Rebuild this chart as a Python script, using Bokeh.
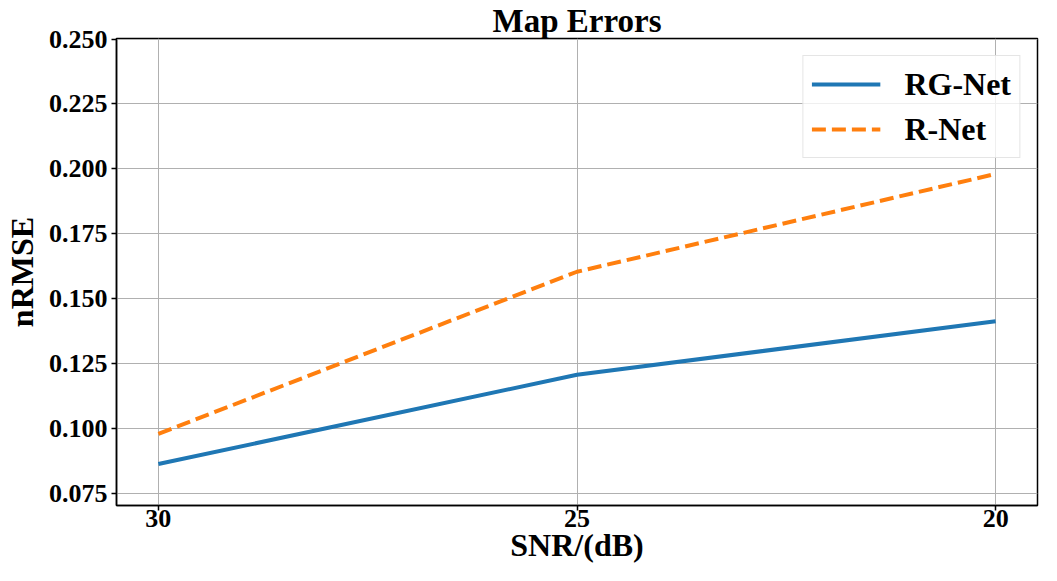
from bokeh.plotting import figure
from bokeh.models import Range1d, FixedTicker, PrintfTickFormatter, Legend, LegendItem
from bokeh.embed import file_html
from bokeh.resources import INLINE

snr = [30, 25, 20]
rg_net = [0.0862, 0.1206, 0.1412]
r_net = [0.0978, 0.1603, 0.1980]
x_ticks = [30, 25, 20]
y_ticks = [0.075, 0.100, 0.125, 0.150, 0.175, 0.200, 0.225, 0.250]

FONT = "Liberation Serif"

p = figure(width=1041, height=565, output_backend="svg", toolbar_location=None,
           x_range=Range1d(30.5, 19.5), y_range=Range1d(0.0702, 0.2502),
           min_border_left=113, min_border_right=4, min_border_top=30, min_border_bottom=59)

p.title.text = "Map Errors"
p.title.align = "center"
p.title.text_font = FONT
p.title.text_font_size = "33px"
p.title.text_font_style = "bold"
p.title.text_color = "black"
p.title.standoff = 0
p.title.offset = 0

r1 = p.line(snr, rg_net, line_color="#1f77b4", line_width=4)
r2 = p.line(snr, r_net, line_color="#ff7f0e", line_width=4, line_dash="14 6")

p.xaxis.ticker = FixedTicker(ticks=x_ticks)
p.yaxis.ticker = FixedTicker(ticks=y_ticks)
p.yaxis.formatter = PrintfTickFormatter(format="%.3f")
p.xaxis.axis_label = "SNR/(dB)"
p.yaxis.axis_label = "nRMSE"

for ax in (p.xaxis, p.yaxis):
    ax.axis_label_text_font = FONT
    ax.axis_label_text_font_size = "32px"
    ax.axis_label_text_font_style = "bold"
    ax.major_label_text_font = FONT
    ax.major_label_text_font_size = "26px"
    ax.major_label_text_font_style = "bold"
    ax.major_label_text_color = "black"
    ax.axis_label_text_color = "black"
    ax.axis_line_color = "black"
    ax.axis_line_width = 1.5
    ax.major_tick_line_color = "black"
    ax.major_tick_line_width = 1.5
    ax.major_tick_in = 0
    ax.major_tick_out = 5
    ax.minor_tick_line_color = None

p.yaxis.major_label_standoff = 4
p.yaxis.axis_label_standoff = 6
p.xaxis.major_label_standoff = -1
p.xaxis.axis_label_standoff = -3

p.xgrid.grid_line_color = "#b0b0b0"
p.ygrid.grid_line_color = "#b0b0b0"
p.xgrid.grid_line_width = 1
p.ygrid.grid_line_width = 1

p.outline_line_color = "black"
p.outline_line_width = 1.5
p.background_fill_color = "white"
p.border_fill_color = "white"

legend = Legend(items=[LegendItem(label="RG-Net", renderers=[r1]),
                       LegendItem(label="R-Net", renderers=[r2])],
                location="top_right", margin=17, padding=8, spacing=5,
                glyph_width=69, glyph_height=40, label_standoff=24,
                label_text_font=FONT, label_text_font_size="32px",
                label_text_font_style="bold", label_text_color="black",
                border_line_color="#cccccc", border_line_width=1,
                background_fill_color="white", background_fill_alpha=0.8)
p.add_layout(legend)

open("out.html", "w").write(file_html(p, INLINE))
